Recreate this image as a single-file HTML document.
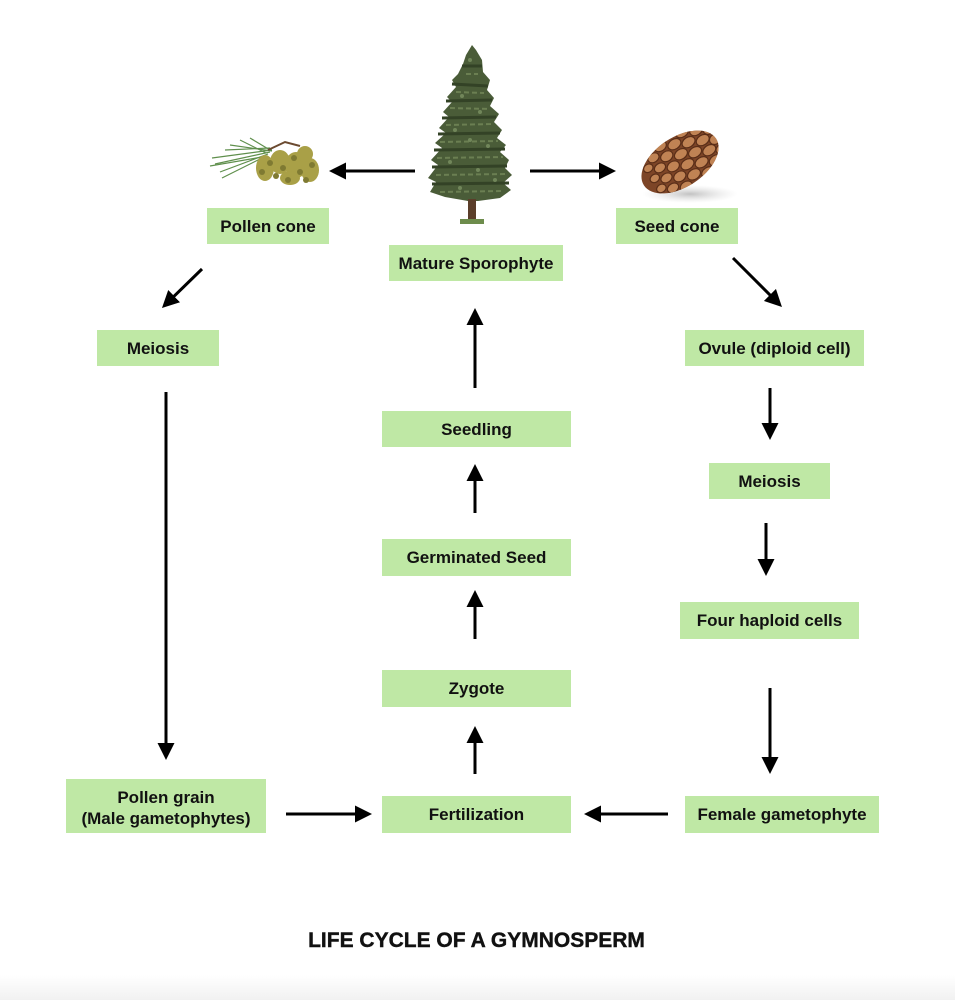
<!DOCTYPE html>
<html><head><meta charset="utf-8"><style>
html,body{margin:0;padding:0;background:#fff;}
body{width:955px;height:1000px;overflow:hidden;position:relative;}
svg{display:block;}
text{font-family:"Liberation Sans",Arial,sans-serif;font-weight:bold;fill:#111;}
</style></head><body>
<svg width="955" height="1000" viewBox="0 0 955 1000" xmlns="http://www.w3.org/2000/svg">
<defs>
<marker id="ah" markerUnits="userSpaceOnUse" markerWidth="18" markerHeight="17" refX="9" refY="8.5" orient="auto">
<path d="M0,0 L17,8.5 L0,17 z" fill="#000"/>
</marker>
<linearGradient id="bot" x1="0" y1="0" x2="0" y2="1">
<stop offset="0" stop-color="#fff"/><stop offset="1" stop-color="#f1f1f1"/>
</linearGradient>
<clipPath id="coneclip"><ellipse cx="0" cy="0" rx="43" ry="25"/></clipPath>
<radialGradient id="shad" cx="0.5" cy="0.5" r="0.5">
<stop offset="0" stop-color="#999" stop-opacity="0.6"/><stop offset="1" stop-color="#ccc" stop-opacity="0"/>
</radialGradient>
</defs>
<rect x="0" y="975" width="955" height="25" fill="url(#bot)"/>

<!-- Tree -->
<g>
<path d="M472,45 L466,55 L463,64 L458,74 L452,80 L456,87 L447,97 L452,102 L443,112 L449,117 L439,128 L446,133 L435,143 L442,148 L431,160 L438,165 L428,178 L436,182 L430,192 L445,197 L468,201 L478,201 L500,198 L511,190 L503,183 L512,175 L505,168 L509,160 L500,152 L506,145 L497,138 L502,130 L494,122 L499,114 L490,106 L494,98 L487,90 L490,80 L483,72 L482,60 L476,50 Z" fill="#4a5c38"/>
<path d="M462,66 L482,66 M452,84 L488,86 M446,101 L492,100 M442,118 L496,117 M438,134 L500,133 M434,150 L505,149 M432,167 L507,166 M432,184 L509,183" stroke="#334226" stroke-width="3" fill="none"/>
<path d="M466,74 L478,74 M456,92 L484,93 M450,108 L490,109 M446,125 L494,124 M440,142 L498,141 M437,158 L503,157 M436,175 L505,174 M440,192 L504,191" stroke="#6b7f52" stroke-width="2" fill="none" stroke-dasharray="5 3"/>
<g fill="#71865a">
<circle cx="470" cy="60" r="2"/><circle cx="462" cy="96" r="2"/><circle cx="480" cy="112" r="2"/><circle cx="455" cy="130" r="2"/><circle cx="488" cy="146" r="2"/><circle cx="450" cy="162" r="2"/><circle cx="478" cy="170" r="2"/><circle cx="495" cy="180" r="2"/><circle cx="460" cy="188" r="2"/><circle cx="470" cy="140" r="2"/>
</g>
<rect x="468" y="199" width="8" height="22" fill="#5b3e2a"/>
<rect x="460" y="219" width="24" height="5" fill="#6d8c4c"/>
</g>

<!-- Pollen cone -->
<g>
<g stroke="#5f8f4c" stroke-width="1.2" fill="none">
<path d="M272,150 L212,158"/><path d="M270,152 L215,164"/><path d="M268,154 L220,172"/>
<path d="M270,148 L225,150"/><path d="M272,151 L230,145"/><path d="M268,156 L210,166"/>
<path d="M266,153 L240,140"/><path d="M266,156 L222,178"/><path d="M270,150 L250,138"/>
</g>
<path d="M268,150 L285,142 L300,146" stroke="#6b4a30" stroke-width="2" fill="none"/>
<g fill="#a9a047">
<ellipse cx="265" cy="168" rx="9" ry="13"/>
<ellipse cx="280" cy="162" rx="10" ry="12"/>
<ellipse cx="296" cy="165" rx="11" ry="13"/>
<ellipse cx="310" cy="170" rx="9" ry="12"/>
<ellipse cx="290" cy="178" rx="10" ry="7"/>
<ellipse cx="305" cy="154" rx="8" ry="8"/>
</g>
<g fill="#7f7a32">
<circle cx="262" cy="172" r="3"/><circle cx="270" cy="163" r="3"/><circle cx="283" cy="168" r="3"/>
<circle cx="294" cy="158" r="3"/><circle cx="300" cy="172" r="3"/><circle cx="312" cy="165" r="3"/>
<circle cx="288" cy="180" r="3"/><circle cx="306" cy="180" r="3"/><circle cx="276" cy="176" r="3"/>
</g>
</g>

<!-- Seed cone -->
<g>
<ellipse cx="690" cy="194" rx="48" ry="9" fill="url(#shad)"/>
<g transform="translate(680,162) rotate(-33)">
<ellipse cx="0" cy="0" rx="43" ry="25" fill="#7d4527"/>
<g clip-path="url(#coneclip)" fill="#c08354" stroke="#5a2e18" stroke-width="1.2">
<ellipse cx="-30" cy="-12" rx="5" ry="4"/><ellipse cx="-30" cy="0" rx="5" ry="4"/><ellipse cx="-30" cy="12" rx="5" ry="4"/>
<ellipse cx="-20" cy="-18" rx="6" ry="4.5"/><ellipse cx="-20" cy="-6" rx="6" ry="4.5"/><ellipse cx="-20" cy="6" rx="6" ry="4.5"/><ellipse cx="-20" cy="18" rx="6" ry="4.5"/>
<ellipse cx="-8" cy="-12" rx="6.5" ry="5"/><ellipse cx="-8" cy="0" rx="6.5" ry="5"/><ellipse cx="-8" cy="12" rx="6.5" ry="5"/><ellipse cx="-8" cy="24" rx="6.5" ry="5"/><ellipse cx="-8" cy="-24" rx="6.5" ry="5"/>
<ellipse cx="5" cy="-18" rx="7" ry="5"/><ellipse cx="5" cy="-6" rx="7" ry="5"/><ellipse cx="5" cy="6" rx="7" ry="5"/><ellipse cx="5" cy="18" rx="7" ry="5"/>
<ellipse cx="18" cy="-12" rx="7" ry="5"/><ellipse cx="18" cy="0" rx="7" ry="5"/><ellipse cx="18" cy="12" rx="7" ry="5"/><ellipse cx="18" cy="24" rx="7" ry="5"/><ellipse cx="18" cy="-24" rx="7" ry="5"/>
<ellipse cx="31" cy="-18" rx="7" ry="5"/><ellipse cx="31" cy="-6" rx="7" ry="5"/><ellipse cx="31" cy="6" rx="7" ry="5"/><ellipse cx="31" cy="18" rx="7" ry="5"/>
<ellipse cx="42" cy="-12" rx="6" ry="5"/><ellipse cx="42" cy="0" rx="6" ry="5"/><ellipse cx="42" cy="12" rx="6" ry="5"/>
</g>
</g>
</g>

<!-- Boxes -->
<g fill="#bfe8a5">
<rect x="207" y="208" width="122" height="36"/>
<rect x="616" y="208" width="122" height="36"/>
<rect x="389" y="245" width="174" height="36"/>
<rect x="97" y="330" width="122" height="36"/>
<rect x="685" y="330" width="179" height="36"/>
<rect x="382" y="411" width="189" height="36"/>
<rect x="709" y="463" width="121" height="36"/>
<rect x="382" y="539" width="189" height="37"/>
<rect x="680" y="602" width="179" height="37"/>
<rect x="382" y="670" width="189" height="37"/>
<rect x="66" y="779" width="200" height="54"/>
<rect x="382" y="796" width="189" height="37"/>
<rect x="685" y="796" width="194" height="37"/>
</g>

<g font-size="17" text-anchor="middle">
<text x="268" y="232">Pollen cone</text>
<text x="677" y="232">Seed cone</text>
<text x="476" y="269">Mature Sporophyte</text>
<text x="158" y="354">Meiosis</text>
<text x="774.5" y="354">Ovule (diploid cell)</text>
<text x="476.5" y="435">Seedling</text>
<text x="769.5" y="487">Meiosis</text>
<text x="476.5" y="563">Germinated Seed</text>
<text x="769.5" y="626">Four haploid cells</text>
<text x="476.5" y="694">Zygote</text>
<text x="166" y="803">Pollen grain</text>
<text x="166" y="824">(Male gametophytes)</text>
<text x="476.5" y="820">Fertilization</text>
<text x="782" y="820">Female gametophyte</text>
</g>

<!-- Arrows -->
<g stroke="#000" stroke-width="3" fill="none" marker-end="url(#ah)">
<line x1="415" y1="171" x2="337" y2="171"/>
<line x1="530" y1="171" x2="608" y2="171"/>
<line x1="202" y1="269" x2="167.7" y2="302.4"/>
<line x1="733" y1="258" x2="776.3" y2="301.3"/>
<line x1="166" y1="392" x2="166" y2="752"/>
<line x1="770" y1="388" x2="770" y2="432"/>
<line x1="766" y1="523" x2="766" y2="568"/>
<line x1="770" y1="688" x2="770" y2="766"/>
<line x1="668" y1="814" x2="592" y2="814"/>
<line x1="286" y1="814" x2="364" y2="814"/>
<line x1="475" y1="774" x2="475" y2="734"/>
<line x1="475" y1="639" x2="475" y2="598"/>
<line x1="475" y1="513" x2="475" y2="472"/>
<line x1="475" y1="388" x2="475" y2="316"/>
</g>

<text x="476.5" y="947" font-size="21" text-anchor="middle" stroke="#111" stroke-width="0.4">LIFE CYCLE OF A GYMNOSPERM</text>
</svg>
</body></html>
